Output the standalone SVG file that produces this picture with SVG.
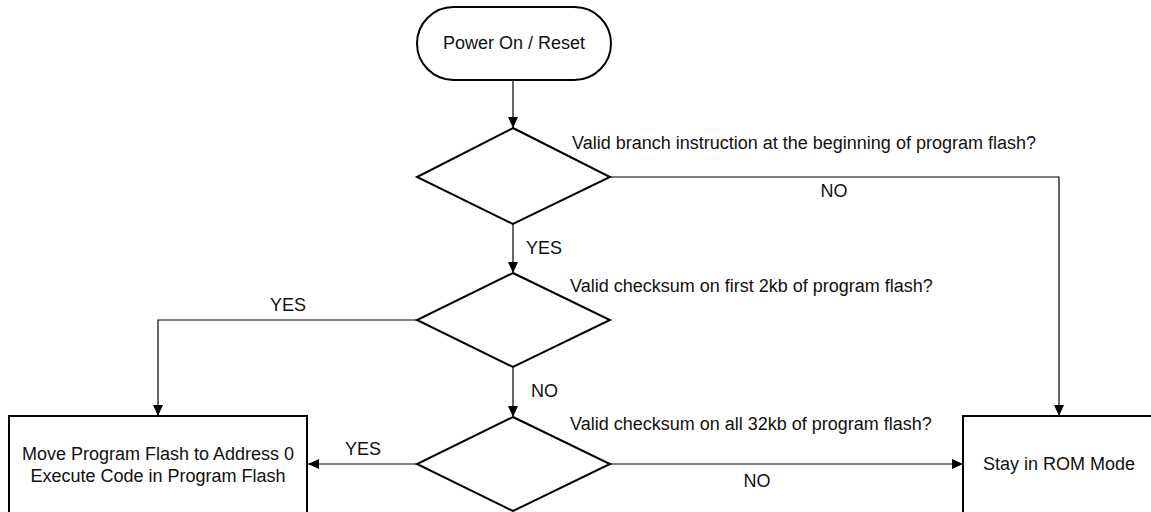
<svg xmlns="http://www.w3.org/2000/svg" width="1151" height="512" viewBox="0 0 1151 512">
<style>
.shape{fill:#fff;stroke:#000;stroke-width:2}
.conn{fill:none;stroke:#000;stroke-width:1.2}
text{font-family:"Liberation Sans",Arial,sans-serif;font-size:18px;fill:#111}
.c{text-anchor:middle}
</style>
<defs>
<marker id="arr" markerUnits="userSpaceOnUse" markerWidth="12" markerHeight="10" refX="11" refY="5" orient="auto">
<path d="M0,0 L11,5 L0,10 z" fill="#000"/>
</marker>
</defs>
<rect width="1151" height="512" fill="#fff"/>
<g id="connectors">
<line class="conn" x1="513" y1="80" x2="513" y2="128" marker-end="url(#arr)"/>
<line class="conn" x1="513" y1="224" x2="513" y2="273" marker-end="url(#arr)"/>
<line class="conn" x1="513" y1="367" x2="513" y2="417" marker-end="url(#arr)"/>
<polyline class="conn" points="610,177 1059,177 1059,416" marker-end="url(#arr)"/>
<polyline class="conn" points="417,320 158,320 158,416" marker-end="url(#arr)"/>
<line class="conn" x1="417" y1="464" x2="308" y2="464" marker-end="url(#arr)"/>
<line class="conn" x1="610" y1="464" x2="963" y2="464" marker-end="url(#arr)"/>
<text x="526" y="254">YES</text>
<text x="531" y="397">NO</text>
<text class="c" x="288" y="311">YES</text>
<text class="c" x="363" y="455">YES</text>
<text class="c" x="834" y="197">NO</text>
<text class="c" x="757" y="487">NO</text>
</g>
<g id="start">
<rect class="shape" x="417" y="7" width="194" height="73" rx="36.5" ry="36.5"/>
<text class="c" x="514" y="49">Power On / Reset</text>
</g>
<g id="decision1">
<polygon class="shape" points="513,128 610,177 513,224 417,177"/>
<text x="572" y="149">Valid branch instruction at the beginning of program flash?</text>
</g>
<g id="decision2">
<polygon class="shape" points="513,273 610,320 513,367 417,320"/>
<text x="570" y="292">Valid checksum on first 2kb of program flash?</text>
</g>
<g id="decision3">
<polygon class="shape" points="513,417 610,464 513,511 417,464"/>
<text x="570" y="430">Valid checksum on all 32kb of program flash?</text>
</g>
<g id="execute">
<rect class="shape" x="9" y="416" width="298" height="110"/>
<text class="c" x="158" y="460">Move Program Flash to Address 0</text>
<text class="c" x="158" y="482">Execute Code in Program Flash</text>
</g>
<g id="rom">
<rect class="shape" x="963" y="416" width="200" height="110"/>
<text class="c" x="1059" y="470">Stay in ROM Mode</text>
</g>
</svg>
